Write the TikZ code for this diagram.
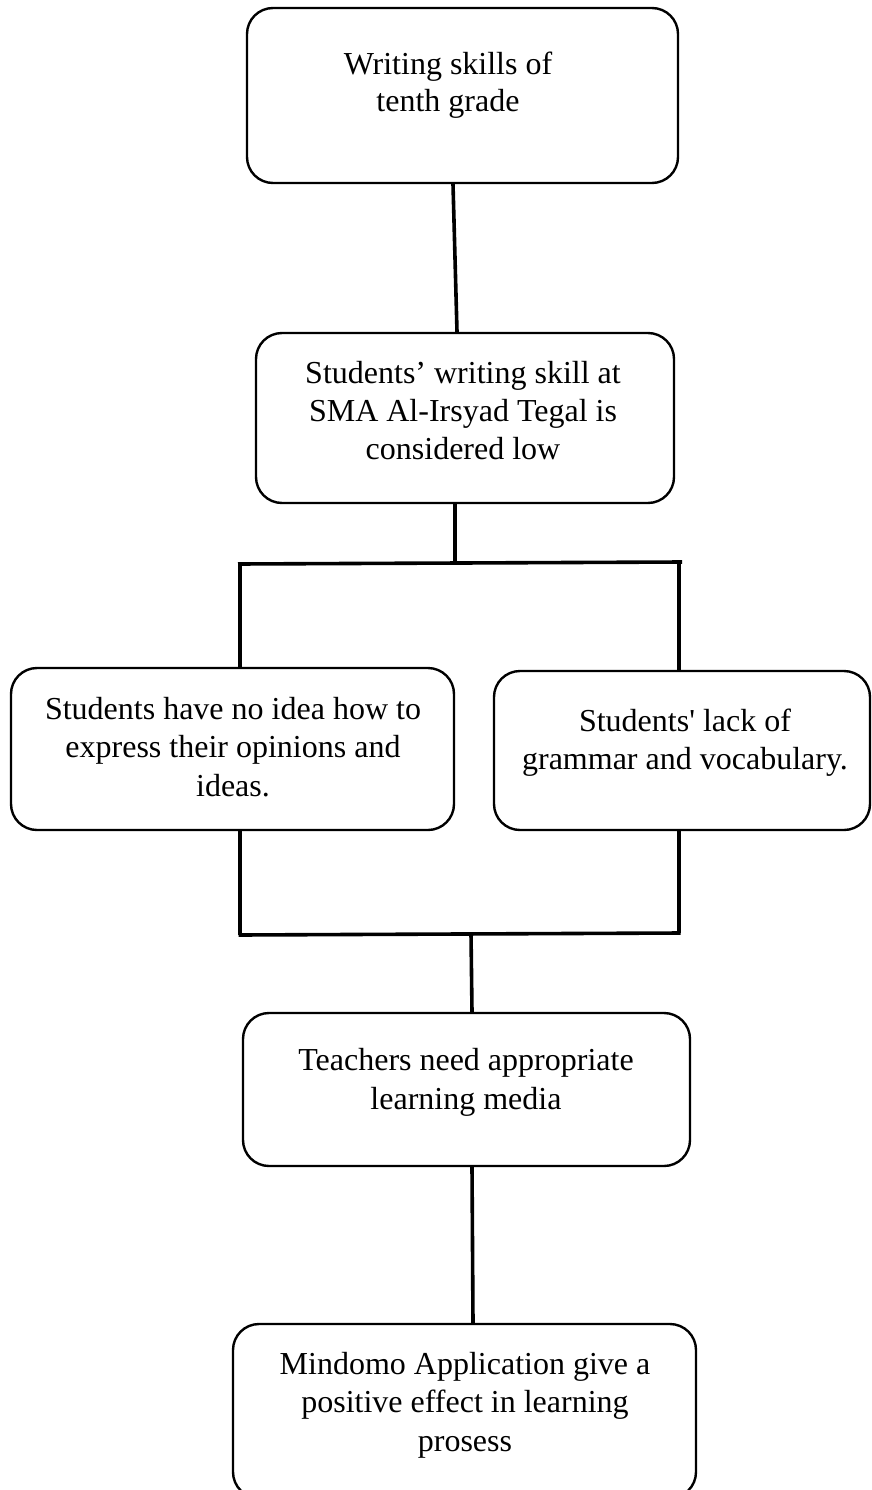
\documentclass[tikz,border=0pt]{standalone}
\usepackage{fontspec}
\setmainfont{Liberation Serif}[Ligatures=TeXOff]
\begin{document}
\begin{tikzpicture}[x=1pt,y=-1pt,
  box/.style={draw=black, line width=2.4pt, rounded corners=26pt, inner sep=0pt},
  txt/.style={align=center, inner sep=0pt, anchor=north, font=\fontsize{32}{38}\selectfont},
  link/.style={draw=black, line width=3.6pt}]
\useasboundingbox (0,0) rectangle (871,1490);
% boxes
\node[box, minimum width=431pt, minimum height=175pt] (b1) at (462.5,95.5) {};
\node[box, minimum width=418pt, minimum height=170pt] (b2) at (465,418) {};
\node[box, minimum width=443pt, minimum height=162pt] (b3) at (232.5,749) {};
\node[box, minimum width=376pt, minimum height=159pt] (b4) at (682,750.5) {};
\node[box, minimum width=447pt, minimum height=153pt] (b5) at (466.5,1089.5) {};
\node[box, minimum width=463pt, minimum height=174pt] (b6) at (464.5,1411) {};
% texts
\node[txt, font=\fontsize{32}{37}\selectfont] (t1) at (448,52) {Writing skills of\\tenth grade};
\node[txt] (t2) at (463,361) {Students’ writing skill at\\SMA Al-Irsyad Tegal is\\considered low};
\node[txt, font=\fontsize{32}{38.5}\selectfont] (t3) at (233,697) {Students have no idea how to\\express their opinions and\\ideas.};
\node[txt] (t4) at (685,709) {Students' lack of\\grammar and vocabulary.};
\node[txt, font=\fontsize{32}{39}\selectfont] (t5) at (466,1048) {Teachers need appropriate\\learning media};
\node[txt, font=\fontsize{32}{38.5}\selectfont] (t6) at (465,1352) {Mindomo Application give a\\positive effect in learning\\prosess};
% junctions
\coordinate (j) at (455,563);
\coordinate (jl) at (240,564);
\coordinate (jr) at (679,562);
\coordinate (kl) at (240,935);
\coordinate (kr) at (679,933);
\coordinate (k) at (471,934);
% connectors
\draw[link] ([xshift=-9.5pt]b1.south) -- ([xshift=-8pt]b2.north);
\draw[link] ([xshift=-10pt]b2.south) -- (j);
\draw[link] ([xshift=-2pt]jl) -- ([xshift=3pt]jr);
\draw[link] (jl) -- (jl |- b3.north);
\draw[link] (jr) -- (jr |- b4.north);
\draw[link] (kl |- b3.south) -- (kl);
\draw[link] (kr |- b4.south) -- (kr);
\draw[link] ([xshift=-1.5pt]kl) -- ([xshift=1.5pt]kr);
\draw[link] (k) -- ([xshift=5.5pt]b5.north);
\draw[link] ([xshift=5.5pt]b5.south) -- ([xshift=8.5pt]b6.north);
\end{tikzpicture}
\end{document}
